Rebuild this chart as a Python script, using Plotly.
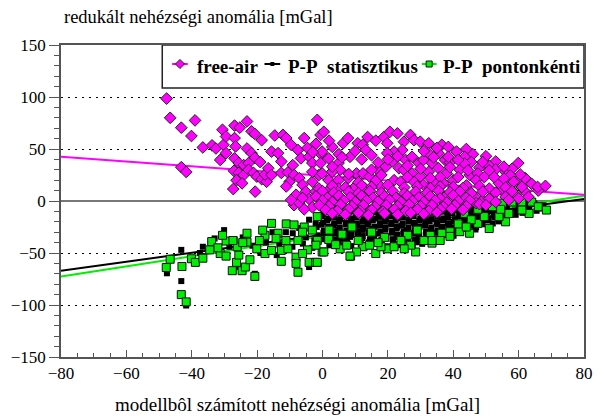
import plotly.graph_objects as go

# ---------------------------------------------------------------
# Reduced gravity anomaly vs. anomaly computed from the model (mGal)
# Each list holds (model anomaly, reduced anomaly) pairs.
# ---------------------------------------------------------------

# free-air anomalies: sparse western part
free_air_west = [
    (-47.7, 98.5), (-46.6, 80), (-39, 77.5), (-43.2, 70.5), (-40.1, 62.5), (-36.6, 51.5),
    (-43.2, 32.5), (-41.7, 28), (-33.8, 53.5), (-32.6, 50.5), (-30.3, 54), (-29.5, 46),
    (-31.3, 39.5), (-30.6, 68.5), (-29.5, 62), (-26.9, 72.5), (-25.3, 70.5), (-23.1, 76.5),
    (-26.9, 60.5), (-26.6, 52.5), (-21.7, 67), (-20.7, 64.5), (-18.6, 58.5), (-23.1, 50.5),
    (-21.7, 46), (-20.7, 41.5), (-26.9, 41), (-25.6, 36.5), (-24.1, 34.5), (-22.6, 36.5),
    (-19.1, 37.5), (-27.1, 29), (-25.6, 27), (-24.1, 25), (-26.3, 20), (-24.6, 17),
    (-27.3, 11.5), (-20.6, 9), (-22.6, 30), (-21.1, 27), (-20.1, 23.5), (-18.6, 21),
    (-17.1, 18.5), (-17.6, 25.5), (-16.6, 31.5), (-15.6, 25), (-14.6, 63), (-15.6, 47.5),
    (-13.6, 46), (-12.1, 63.5), (-11.1, 60.5), (-9.6, 54), (-12.6, 38), (-12.6, 27),
    (-10.6, 27.5), (-10.1, 18.5), (-11.1, 14), (-9.1, 34.5), (-7.5, 49), (-6.6, 41),
    (-5.6, 60.5), (-4.6, 51), (-4.1, 42.5), (-3.1, 36.5), (-1.6, 78), (-0.6, 63.5),
    (-0.3, 44.5), (-8.7, 25), (-7.1, 22), (-6.1, 15.5), (-8.1, 6), (-5.1, 9),
    (-3.1, 18.5), (-2.1, 9), (-1.1, 25), (-3.1, 28), (-8.7, -4), (-7.1, -2),
    (-4.1, 2), (-6.1, 3), (-9.6, 1), (-3.1, -6), (-5.6, -8),
]

# free-air anomalies: central upper cloud
free_air_centre = [
    (0.4, 66.5), (6.3, 55.5), (7.8, 60.5), (10.8, 55.5), (12.3, 54), (13.8, 61.5),
    (16.3, 58), (13.3, 49), (18.8, 61.5), (20.6, 66.5), (22.9, 65), (19.8, 55.5),
    (26.9, 63.5), (28, 58.5), (29.9, 57), (32.5, 55.5), (36.5, 54), (38.5, 52),
    (24.9, 57), (24.4, 49), (21.9, 47.5), (19.8, 46), (-0.1, 47.5), (1.9, 41),
    (-0.6, 36.5), (4.9, 36.5), (8.4, 42.5), (5.4, 30), (2.9, 28), (-0.1, 26.5),
    (1.9, 20), (4.9, 20), (7.9, 22), (10.4, 26.5), (12.4, 26.5), (14.4, 23.5),
    (16.4, 20), (16.9, 30), (19.4, 33), (21.4, 38), (23.4, 31.5), (24.9, 30),
    (25.4, 39.5), (27.4, 42.5), (29.4, 36.5), (30.9, 39.5), (33.5, 36.5), (27.4, 26.5),
    (29.9, 23.5), (32.5, 28), (35.5, 31.5), (37.5, 39.5), (35.5, 46), (32.5, 46),
    (38, 26.5), (21.9, 20), (23.9, 18.5), (28, 18.5), (30.9, 15.5), (34, 18.5),
    (37, 17), (4.9, 12), (1.9, 10.5), (-1.1, 12), (9.9, 13.5), (13, 12), (17.9, 13.5),
    (3, 52), (5, 45), (10, 48), (12, 40), (15, 44), (17, 37), (23, 43), (26, 34),
    (31, 48), (34, 42), (36, 23), (39, 37), (40, 20), (42, 30), (45, 25), (48, 32),
    (50, 43), (46, 45), (53, 38), (56, 28), (58, 31), (60, 20), (62, 22), (11, 18),
    (15, 30), (18, 25), (26, 23), (30, 31), (33, 22), (8, 26), (3, 33), (6, 42),
    (-2, 55), (2, 58), (-3, 47), (20, 40), (35, 51), (44, 50), (51, 34), (54, 17),
    (57, 14), (62, 9), (59, 6), (66, 10),
]

# free-air anomalies: eastern part
free_air_east = [
    (41, 47.5), (43.5, 42.5), (45.5, 37.5), (43.5, 36), (49, 37.5), (59.9, 36.5),
    (53, 30.5), (55.5, 33), (51, 29.5), (47.5, 26.5), (49.5, 23), (60.5, 25.5),
    (57.5, 24.5), (55.5, 21.5), (52.5, 23), (58.5, 18.5), (61, 13.5), (64, 16.5),
    (65.8, 13.5), (68.2, 14.5), (63, 4), (55, 10), (52, 5.5), (49, 1), (46.5, 4),
    (43, -1), (47, -2), (40.5, 1), (37.5, 4), (40, 13.5), (44, 15), (47, 20),
    (44.5, 29.5), (41.5, 23), (39, 32.5), (41.5, 39.5), (38.5, 42.5),
]

# free-air anomalies: dense band around zero
free_air_band = [
    (3, 14.5), (7, 13), (12, 15), (15, 13.5), (20, 15.5), (25, 13), (29, 14), (33, 12.5),
    (36, 14), (43, 12.5), (48, 14.5), (51, 12), (56, 13),
    (0, 9.5), (3.5, 8), (8, 9), (11, 7.5), (14.5, 9.5), (18, 8), (21.5, 9.5), (25, 7.5),
    (28.5, 9), (32, 8), (35.5, 10), (39, 8.5), (42, 9), (45.5, 7.5), (49, 9), (53, 8), (58, 9.5),
    (-2, 4.5), (1.5, 3), (5, 5), (8.5, 3.5), (12, 5), (15.5, 3), (19, 4.5), (22.5, 3),
    (26, 5), (29.5, 3.5), (33, 4.5), (36, 2.5), (40, 5.5), (44, 3), (51, 2), (56, 4), (60, 2.5),
    (0, 0.5), (3, -1), (6.5, 0.5), (10, -1), (13.5, 0.5), (17, -0.5), (20.5, 1), (24, -1),
    (27.5, 0), (31, -1), (34.5, 0.5), (38, -1.5), (41.5, 0), (45, 0.5), (48, -3), (53, -1), (57, 1),
    (-1, -4), (2, -5), (5.5, -3.5), (9, -5), (12.5, -4), (16, -5.5), (19.5, -4), (23, -5),
    (26.5, -3.5), (30, -5), (33.5, -4), (37, -5.5), (40.5, -4), (44, -5), (50, -4),
    (1, -8.5), (4.5, -9.5), (8, -8), (11.5, -9.5), (15, -8.5), (18.5, -10), (22, -8),
    (25.5, -9.5), (29, -8), (32.5, -9.5), (36, -8), (39.5, -7.5), (43, -8.5),
    (3, -12), (7, -13), (11, -11.5), (14, -13.5), (19, -12), (23, -13), (27, -11.5),
    (31, -12.5), (35, -11),
]

# P-P (statistical density) reduced anomalies
pp_stat_west = [
    (-43.2, -47), (-43.2, -77), (-47.6, -69.5), (-36.6, -44), (-36.6, -53), (-41.7, -100.5),
    (-30.1, -28), (-26.9, -37), (-26.6, -63.5), (-20.7, -70), (-9.1, -31), (-4.1, -63.5),
    (-31.5, -48), (-28.5, -44), (-24.4, -35), (-21.4, -43), (-17.3, -40), (-15.3, -30),
    (-13.2, -42), (-11.2, -30), (-9.2, -44), (-7.1, -26), (-5.1, -35), (-3.1, -45),
    (-2.1, -22), (-4.1, -18), (-37.5, -50), (-33, -36), (-19, -50), (-14, -52), (-6, -41),
    (-1.8, -25), (-1.5, -33), (-2.5, -38),
]

pp_stat_band = [
    (40.3, -2.5), (43.2, -3.8), (46.8, -2.2), (49.7, -4.1), (53.4, -2.9), (56.2, -3.6),
    (59.3, -1.8), (62.1, -3.3), (64.8, -2.4), (67.6, -4.2),
    (0.2, -6.8), (3.8, -7.6), (7.7, -6.3), (10.9, -7.9), (14.6, -6.6), (18.2, -7.4),
    (21.3, -6.2), (25.1, -7.8), (28.7, -6.9), (31.8, -7.3), (35.6, -6.4), (39.2, -7.7),
    (42.4, -6.5), (46.1, -7.9), (49.6, -6.7), (53.2, -7.5), (56.4, -6.3), (60.1, -7.8),
    (63.3, -6.9), (66.2, -7.2),
    (2, -9.2), (5.6, -8.8), (9.3, -9.5), (12.9, -8.7), (16.4, -9.3), (20.1, -8.9),
    (23.5, -9.6), (27.2, -8.6), (30.6, -9.4), (34.3, -8.8), (37.8, -9.5), (41.4, -8.7),
    (44.8, -9.3), (48.5, -8.9), (52, -9.6), (55.3, -8.6), (58.9, -9.2), (62.4, -8.8), (65.5, -9.4),
    (1.6, -10.8), (5.2, -11.6), (8.3, -10.4), (12.1, -11.9), (15.7, -10.7), (18.8, -11.3),
    (22.6, -10.5), (26.2, -11.8), (29.4, -10.9), (33.1, -11.4), (36.7, -10.3), (39.8, -11.7),
    (43.6, -10.6), (47.2, -11.5), (50.3, -10.8), (54.1, -11.9), (57.6, -10.5), (61.2, -11.4),
    (0.1, -12.8), (3.5, -13.5), (6.9, -12.6), (10.3, -13.7), (13.9, -12.9), (17.2, -13.4),
    (20.8, -12.7), (24.4, -13.6), (27.7, -12.8), (31.3, -13.3), (34.9, -12.6), (38.2, -13.8),
    (41.8, -12.9), (45.3, -13.4), (48.6, -12.7), (52.3, -13.5), (55.7, -12.8), (59.1, -13.3),
    (-0.2, -14.7), (3.6, -15.5), (7.1, -14.4), (10.4, -15.8), (14.2, -14.9), (17.4, -15.3),
    (21.2, -14.6), (24.6, -15.7), (27.9, -14.5), (31.6, -15.4), (35.2, -14.8), (38.4, -15.9),
    (42.1, -14.6), (45.7, -15.2), (48.8, -14.9), (52.6, -15.6), (55.8, -14.4),
    (1.8, -16.9), (5.4, -17.5), (8.9, -16.7), (12.5, -17.6), (16, -16.8), (19.4, -17.3),
    (22.9, -16.6), (26.5, -17.8), (29.9, -16.9), (33.4, -17.4), (37, -16.7), (40.5, -17.5),
    (43.9, -16.8), (47.4, -17.2), (50.8, -16.6), (54.3, -17.6),
    (1.4, -18.8), (5.1, -19.6), (8.7, -18.5), (12.2, -19.9), (15.4, -18.7), (19.1, -19.4),
    (22.4, -18.6), (26.3, -19.7), (29.6, -18.9), (32.8, -19.3), (36.6, -18.4), (40.2, -19.8),
    (43.3, -18.7), (47.1, -19.5), (50.4, -18.8), (53.9, -19.6),
    (0.2, -20.8), (3.6, -21.4), (7.1, -20.6), (10.5, -21.7), (14, -20.9), (17.5, -21.3),
    (21, -20.7), (24.5, -21.6), (27.9, -20.8), (31.5, -21.2), (34.9, -20.6), (38.4, -21.5),
    (42, -20.9), (45.4, -21.3), (48.8, -20.7), (52.1, -21.6),
    (-0.3, -22.8), (3.4, -23.5), (7.2, -22.6), (10.6, -23.9), (13.8, -22.7), (17.6, -23.3),
    (21.1, -22.5), (24.3, -23.8), (28.2, -22.9), (31.4, -23.4), (35.1, -22.6), (38.7, -23.7),
    (41.8, -22.8), (45.6, -23.5), (48.9, -22.4),
    (1.9, -24.9), (5.3, -25.5), (8.8, -24.6), (12.4, -25.7), (15.9, -24.8), (19.3, -25.3),
    (22.8, -24.7), (26.3, -25.6), (29.7, -24.9), (33.3, -25.4), (36.8, -24.6), (40.2, -25.5),
    (43.6, -24.8), (47, -25.2),
    (1.7, -26.9), (4.8, -27.6), (8.6, -26.5), (12.3, -27.8), (15.3, -26.8), (19.2, -27.4),
    (22.7, -26.6), (25.8, -27.9), (29.3, -26.7), (33.2, -27.3), (36.4, -26.5), (39.9, -27.7),
    (43.7, -26.9), (46.8, -27.4),
    (0.4, -28.8), (3.9, -29.4), (7.3, -28.6), (10.8, -29.7), (14.3, -28.9), (17.7, -29.3),
    (21.3, -28.7), (24.8, -29.5), (28.2, -28.8), (31.7, -29.2), (35.2, -28.6), (38.6, -29.6),
    (42, -28.9), (45.2, -29.3),
    (0.3, -30.8), (3.7, -31.5), (6.8, -30.6), (10.7, -31.9), (14.1, -30.7), (17.3, -31.3),
    (21.2, -30.5), (24.7, -31.8), (27.8, -30.9), (31.7, -31.4), (34.8, -30.6), (38.6, -31.7),
    (42.2, -30.8),
    (1.8, -32.8), (5.4, -33.4), (8.8, -32.6), (12.3, -33.7), (15.8, -32.9), (19.2, -33.3),
    (22.8, -32.7), (26.3, -33.5), (29.6, -32.8), (33.2, -33.3), (36.7, -32.6), (40.1, -33.4),
    (1.3, -34.7), (5.2, -35.6), (8.4, -34.5), (12.2, -35.8), (15.6, -34.9), (18.8, -35.3),
    (22.7, -34.6), (26.1, -35.7), (29.4, -34.8), (33.3, -35.4), (36.2, -34.5),
    (0.5, -36.8), (4.1, -37.4), (7.5, -36.6), (11, -37.7), (14.5, -36.9), (18, -37.3),
    (21.4, -36.7), (24.9, -37.5), (28.3, -36.8), (31.8, -37.2), (35.3, -36.6),
    (3.2, -38.8), (6.8, -39.5), (10.6, -38.6), (14.2, -39.8), (17.8, -38.7), (21.6, -39.3),
    (25.2, -38.5), (28.8, -39.7), (32.1, -38.9),
    (5, -40.8), (11.7, -41.4), (16.4, -40.6), (22.3, -41.5), (26.7, -40.9), (30.5, -41.2),
    (2.1, -42.6), (8.8, -43.4), (13.2, -42.8), (19.7, -43.5), (23.9, -42.4), (27.6, -43.1),
]

# P-P (point-by-point density) reduced anomalies
pp_point_west = [
    (-47.8, -64), (-46.6, -56), (-43, -63), (-43.2, -90), (-41.7, -97), (-40.1, -55.5),
    (-38.9, -59), (-36.6, -55), (-33.9, -39), (-31.3, -50.5), (-29.5, -53), (-29.5, -38.5),
    (-30.6, -33), (-27.6, -67), (-26.3, -59), (-24.6, -67), (-23.6, -63.5), (-22.2, -56.5),
    (-25.6, -52), (-20.7, -72.5), (-26.1, -44), (-23.1, -31), (-23.1, -39.5), (-20.1, -46),
    (-17.6, -50.5), (-15.6, -47.5), (-17.6, -33), (-15.6, -21.5), (-13.6, -31), (-11.1, -22),
    (-12.6, -47.5), (-12.6, -58), (-10.6, -46), (-8.7, -23), (-7.5, -38), (-8.1, -54),
    (-8.1, -60), (-7.5, -68.5), (-4.1, -59), (-5.6, -25), (-1.6, -38), (-1.6, -15),
    (-0.1, -49), (-2.1, -59), (-4.6, -47), (-6.1, -50.5), (-27.4, -38), (-24.4, -40),
    (-19.3, -38), (-14.2, -36), (-11.2, -38), (-6.1, -30), (-3.1, -28), (-18.3, -28),
    (-32, -45), (-34.5, -47),
]

pp_point_east = [
    (0.4, -49), (-1.6, -59), (8.6, -53), (16.3, -50.5), (19.8, -46), (28.5, -49),
    (12.4, -44), (10.9, -38), (1.9, -37), (-2, -42.5), (5.4, -46), (33.5, -40.5),
    (36.5, -31), (33, -33), (21.9, -44), (27, -42.5), (14.4, -42.5), (17.9, -44),
    (7.4, -42.5), (60, 14), (61, -1), (64, -1), (66, -5.5), (68.5, -8.7), (63.2, -12),
    (61, -8.7), (56, -20), (51, -26.5), (47.5, -21.5), (45, -31), (42, -29.5),
    (39, -29.5), (36, -38), (33.5, -38), (25, -46), (10.4, -49), (8.4, -53), (57, -12),
    (54, -15), (52, -5.5), (58, -1), (55, -2),
    (9, -25), (15, -30), (29, -28), (43.5, -12), (49.5, -15), (6, -32), (19, -35),
    (26, -33), (41.5, -22), (47.5, -8), (2, -28), (54.5, -8), (45.5, -18), (31, -38),
    (24, -38), (17, -40), (4, -42), (39, -34), (44, -25),
]

# Linear trends (value at x = -80 and x = 80)
trend_x = [-80, 80]
trend_free_air = [42.5, 6]
trend_pp_stat = [-67, 2]
trend_pp_point = [-72.5, 5]

series_names = ["free-air", "P-P\u00a0 statisztikus", "P-P\u00a0 pontonkénti"]
x_ticks = [-80, -60, -40, -20, 0, 20, 40, 60, 80]
y_ticks = [-150, -100, -50, 0, 50, 100, 150]

MAGENTA = "#ff00ff"
GREEN = "#00ee00"
SERIF = "Liberation Serif"

# figure geometry (pixels)
W, H = 604, 419
M_L, M_R, M_T, M_B = 61, 11, 45, 62
PX0, PX1 = M_L, W - M_R          # plot area, horizontal
PY0, PY1 = M_T, H - M_B          # plot area, vertical


def split(points):
    return [p[0] for p in points], [p[1] for p in points]


def serif(size, **kw):
    return dict(family=SERIF, size=size, color="black", **kw)


def paper_x(px):
    return (px - PX0) / (PX1 - PX0)


def paper_y(py):
    return (PY1 - py) / (PY1 - PY0)


fa_x, fa_y = split(free_air_west + free_air_centre + free_air_east + free_air_band)
st_x, st_y = split(pp_stat_west + pp_stat_band)
pt_x, pt_y = split(pp_point_west + pp_point_east)

fig = go.Figure()

# trend lines underneath the markers
for vals, col in ((trend_pp_stat, "black"), (trend_pp_point, GREEN), (trend_free_air, MAGENTA)):
    fig.add_trace(go.Scatter(x=trend_x, y=vals, mode="lines",
                             line=dict(color=col, width=2), showlegend=False,
                             hoverinfo="skip"))

marker_styles = [
    dict(symbol="diamond", size=9, color=MAGENTA, line=dict(width=1, color="#222")),
    dict(symbol="square", size=6, color="black", line=dict(width=0)),
    dict(symbol="square", size=8, color=GREEN, line=dict(width=1, color="#111")),
]

fig.add_trace(go.Scatter(x=st_x, y=st_y, mode="markers", showlegend=False,
                         marker=marker_styles[1], name=series_names[1]))
fig.add_trace(go.Scatter(x=pt_x, y=pt_y, mode="markers", showlegend=False,
                         marker=marker_styles[2], name=series_names[2]))
fig.add_trace(go.Scatter(x=fa_x, y=fa_y, mode="markers", showlegend=False,
                         marker=marker_styles[0], name=series_names[0]))

# ---- legend box drawn on a pixel-scaled overlay axis ----
legend_line_cols = [MAGENTA, "black", GREEN]
legend_line_x = [(174, 190), (268, 284), (428, 443)]
legend_text_x = [197, 290, 448]
legend_sym_y = 64
legend_text_y = 66
legend_marker_sizes = [7, 4, 6]

for (x0, x1), col, mstyle, msize in zip(legend_line_x, legend_line_cols,
                                        marker_styles, legend_marker_sizes):
    fig.add_trace(go.Scatter(x=[x0, x1], y=[legend_sym_y, legend_sym_y], mode="lines",
                             line=dict(color=col, width=2), xaxis="x2", yaxis="y2",
                             showlegend=False, hoverinfo="skip", cliponaxis=False))
    fig.add_trace(go.Scatter(x=[(x0 + x1) / 2], y=[legend_sym_y], mode="markers",
                             marker={**mstyle, "size": msize}, xaxis="x2", yaxis="y2",
                             showlegend=False, hoverinfo="skip", cliponaxis=False))

annotations = [
    dict(text=name, xref="x2", yref="y2", x=tx, y=legend_text_y, xanchor="left",
         yanchor="middle", showarrow=False, font=serif(19, weight="bold"))
    for name, tx in zip(series_names, legend_text_x)
]
annotations += [
    dict(text="redukált nehézségi anomália [mGal]", xref="paper", yref="paper",
         x=paper_x(62), y=paper_y(17), xanchor="left", yanchor="middle",
         showarrow=False, font=serif(18.5)),
    dict(text="modellbôl számított nehézségi anomália [mGal]", xref="paper", yref="paper",
         x=paper_x(W / 2), y=paper_y(405), xanchor="center", yanchor="middle",
         showarrow=False, font=serif(19)),
]

axis_col = "#555"
fig.update_layout(
    width=W, height=H,
    margin=dict(l=M_L, r=M_R, t=M_T, b=M_B),
    paper_bgcolor="white", plot_bgcolor="white",
    font=serif(17),
    showlegend=False,
    xaxis=dict(range=[-80, 80], tickvals=x_ticks, ticks="inside", ticklen=7,
               tickcolor=axis_col, tickwidth=1, showline=True, linecolor=axis_col,
               linewidth=1.5, mirror=True, showgrid=False, zeroline=False,
               minor=dict(dtick=5, ticks="inside", ticklen=4, tickcolor=axis_col),
               tickfont=serif(17)),
    yaxis=dict(range=[-150, 150], tickvals=y_ticks, ticks="outside", ticklen=10,
               tickcolor=axis_col, tickwidth=1, showline=True, linecolor=axis_col,
               linewidth=1.5, mirror=True, showgrid=True, gridcolor="black",
               griddash="2px,5px", gridwidth=1,
               zeroline=True, zerolinecolor="#777", zerolinewidth=1.5,
               minor=dict(dtick=10, ticks="outside", ticklen=5, tickcolor=axis_col),
               tickfont=serif(17)),
    xaxis2=dict(range=[PX0, PX1], overlaying="x", anchor="y2", visible=False,
                fixedrange=True),
    yaxis2=dict(range=[PY1, PY0], overlaying="y", anchor="x2", visible=False,
                fixedrange=True),
    shapes=[dict(type="rect", xref="x2", yref="y2", x0=164, x1=PX1, y0=PY0, y1=88,
                 line=dict(color="#222", width=1.5), fillcolor="white", layer="below")],
    annotations=annotations,
)

fig.write_html("out.html")
